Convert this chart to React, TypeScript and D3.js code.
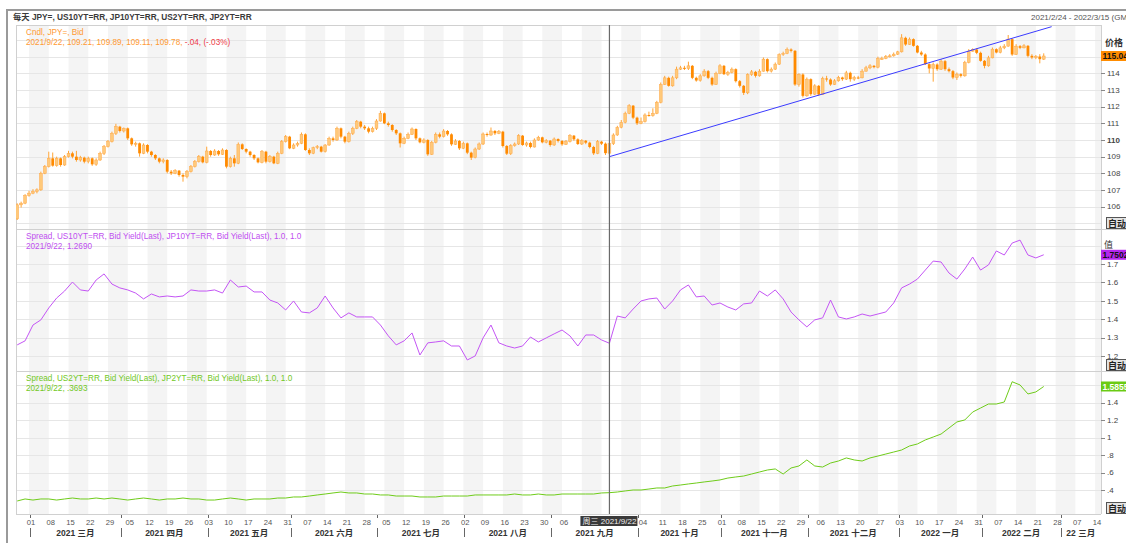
import React from 'react';
import * as d3 from 'd3';

const FONT = "'Liberation Sans', Arial, 'Noto Sans CJK SC', sans-serif";

// ---- data ----
const START = new Date(2021, 1, 24); // first candle
const AXIS_END = new Date(2022, 2, 15);

const jpyOpen0 = 105.27;
const jpyClose = [
  106.11, 106.21, 106.67, 106.81, 106.91, 107.01, 108.0, 108.4, 108.9, 108.46,
  108.9, 108.5, 109.0, 109.2, 109.0, 108.8, 108.94, 108.7, 108.9, 108.54,
  108.8, 109.2, 109.6, 109.9, 110.4, 110.8, 110.54, 110.7, 110.1, 109.74,
  109.8, 109.2, 109.7, 109.3, 109.1, 108.9, 108.7, 108.8, 108.1, 108.0,
  108.16, 107.9, 107.8, 108.1, 108.4, 108.7, 109.0, 108.66, 109.34, 109.1,
  109.34, 109.14, 109.4, 108.4, 108.9, 108.6, 109.74, 109.46, 109.3, 109.1,
  108.9, 108.66, 109.3, 108.7, 109.0, 108.6, 109.2, 109.9, 110.2, 109.5,
  109.7, 109.8, 110.34, 109.4, 109.2, 109.54, 109.6, 109.3, 109.7, 110.1,
  110.0, 110.7, 110.2, 109.9, 110.4, 110.7, 111.1, 110.8, 110.7, 110.5,
  110.7, 111.14, 111.6, 111.0, 110.9, 110.6, 110.4, 109.8, 110.1, 110.34,
  110.66, 110.1, 109.86, 110.0, 109.14, 109.86, 110.34, 110.2, 110.54, 110.34,
  109.74, 109.94, 109.5, 109.8, 109.24, 108.94, 109.46, 109.76, 110.36, 110.3,
  110.54, 110.4, 110.5, 109.64, 109.18, 109.66, 109.76, 110.26, 109.7, 109.82,
  109.58, 110.0, 110.16, 109.86, 109.96, 109.7, 110.06, 109.94, 109.74, 109.9,
  110.26, 110.04, 109.76, 109.96, 109.84, 109.58, 109.2, 109.9, 109.78, 109.21,
  109.78, 110.3, 110.76, 111.06, 111.6, 112.06, 111.34, 111.0, 111.1, 111.5,
  111.46, 111.6, 112.26, 113.33, 113.73, 113.25, 113.73, 114.25, 114.33, 114.29,
  114.45, 113.73, 113.57, 113.85, 114.13, 113.73, 113.33, 113.99, 114.45, 113.95,
  114.05, 114.25, 113.53, 113.25, 112.83, 113.93, 114.09, 113.85, 114.13, 114.85,
  114.13, 114.25, 114.55, 115.13, 115.19, 115.43, 115.35, 113.33, 113.93, 112.65,
  113.65, 112.75, 113.25, 112.73, 113.69, 113.63, 113.33, 113.55, 113.75, 113.65,
  114.03, 113.65, 113.75, 113.73, 114.13, 114.33, 114.45, 114.37, 114.89, 114.89,
  115.01, 115.05, 115.15, 115.29, 116.13, 115.73, 116.05, 115.65, 115.25, 115.13,
  114.55, 114.29, 114.53, 114.25, 114.73, 114.25, 114.13, 113.75, 113.95, 113.85,
  114.65, 115.33, 115.43, 115.23, 114.75, 114.45, 114.93, 115.45, 115.25, 115.53,
  115.63, 116.05, 115.13, 115.63, 115.53, 115.65, 115.05, 114.95, 115.01, 114.85,
  115.04,
];
const jpyHigh = [
  106.2, 106.3, 106.75, 106.95, 107.05, 107.1, 108.1, 108.5, 109.3, 109.25,
  109.0, 108.95, 109.1, 109.35, 109.3, 109.35, 109.05, 109.0, 109.0, 108.95,
  108.9, 109.3, 109.7, 110.0, 110.5, 110.97, 110.85, 110.75, 110.75, 110.15,
  109.9, 109.85, 109.8, 109.75, 109.35, 109.15, 108.95, 108.9, 108.85, 108.2,
  108.25, 108.2, 108.0, 108.2, 108.5, 108.8, 109.1, 109.05, 109.6, 109.4,
  109.45, 109.4, 109.5, 109.45, 109.0, 109.1, 109.85, 109.8, 109.5, 109.35,
  109.15, 108.95, 109.4, 109.35, 109.1, 109.05, 109.3, 110.0, 110.3, 110.25,
  109.8, 109.9, 110.45, 110.4, 109.5, 109.6, 109.7, 109.65, 109.75, 110.2,
  110.2, 110.8, 110.75, 110.25, 110.5, 110.8, 111.2, 111.15, 110.9, 110.8,
  110.8, 111.25, 111.75, 111.65, 111.1, 110.95, 110.65, 110.45, 110.2, 110.45,
  110.75, 110.7, 110.15, 110.1, 110.05, 109.95, 110.45, 110.45, 110.65, 110.6,
  110.4, 110.05, 110.0, 109.9, 109.85, 109.3, 109.55, 109.85, 110.45, 110.45,
  110.75, 110.6, 110.6, 110.55, 109.7, 109.75, 109.85, 110.35, 110.3, 109.9,
  109.9, 110.1, 110.25, 110.2, 110.05, 110.0, 110.15, 110.1, 110.0, 110.0,
  110.35, 110.3, 110.1, 110.05, 110.0, 109.9, 109.65, 110.0, 109.95, 109.85,
  109.89, 110.4, 110.85, 111.2, 111.7, 112.15, 112.1, 111.4, 111.35, 111.6,
  111.7, 111.9, 112.35, 113.45, 113.85, 113.8, 113.85, 114.4, 114.45, 114.45,
  114.7, 114.5, 113.8, 113.95, 114.25, 114.2, 113.8, 114.1, 114.55, 114.5,
  114.15, 114.35, 114.3, 113.6, 113.3, 114.0, 114.2, 114.15, 114.25, 114.95,
  114.9, 114.35, 114.65, 115.2, 115.3, 115.55, 115.5, 115.4, 114.0, 114.0,
  113.75, 113.7, 113.35, 113.3, 113.8, 113.85, 113.7, 113.65, 113.85, 113.8,
  114.15, 114.1, 113.85, 113.85, 114.25, 114.45, 114.55, 114.5, 115.0, 115.0,
  115.1, 115.15, 115.25, 115.35, 116.35, 116.2, 116.15, 116.1, 115.7, 115.35,
  115.2, 114.6, 114.65, 114.6, 114.85, 114.8, 114.35, 114.2, 114.05, 114.0,
  114.75, 115.45, 115.5, 115.5, 115.3, 114.8, 115.05, 115.55, 115.5, 115.65,
  115.75, 116.3, 116.1, 115.75, 115.7, 115.75, 115.7, 115.15, 115.1, 115.15,
  115.2,
];
const jpyLow = [
  105.2, 105.95, 106.15, 106.6, 106.75, 106.8, 106.95, 107.95, 108.35, 108.4,
  108.4, 108.4, 108.45, 108.95, 108.9, 108.7, 108.7, 108.6, 108.6, 108.45,
  108.45, 108.75, 109.1, 109.55, 109.85, 110.3, 110.45, 110.45, 110.0, 109.65,
  109.6, 109.0, 109.15, 109.2, 109.0, 108.8, 108.6, 108.6, 108.0, 107.9,
  107.95, 107.8, 107.5, 107.7, 108.05, 108.35, 108.65, 108.6, 108.6, 109.0,
  109.05, 109.05, 109.1, 108.3, 108.35, 108.4, 108.55, 109.4, 109.2, 109.0,
  108.8, 108.6, 108.6, 108.6, 108.65, 108.55, 108.55, 109.15, 109.85, 109.45,
  109.45, 109.6, 109.75, 109.35, 109.1, 109.15, 109.45, 109.25, 109.25, 109.65,
  109.9, 109.95, 110.1, 109.8, 109.85, 110.3, 110.65, 110.7, 110.6, 110.4,
  110.45, 110.6, 111.1, 110.95, 110.8, 110.5, 110.3, 109.55, 109.75, 110.05,
  110.3, 110.0, 109.8, 109.8, 109.05, 109.1, 109.8, 110.1, 110.15, 110.25,
  109.65, 109.7, 109.4, 109.45, 109.15, 108.8, 108.9, 109.4, 109.7, 110.2,
  110.25, 110.3, 110.35, 109.55, 109.1, 109.1, 109.6, 109.7, 109.65, 109.6,
  109.5, 109.55, 109.95, 109.8, 109.8, 109.6, 109.65, 109.85, 109.65, 109.7,
  109.85, 109.95, 109.7, 109.7, 109.75, 109.5, 109.1, 109.15, 109.7, 109.1,
  109.11, 109.7, 110.25, 110.7, 111.0, 111.55, 111.25, 110.9, 110.95, 111.05,
  111.4, 111.4, 111.55, 112.2, 113.3, 113.2, 113.2, 113.65, 114.2, 114.2,
  114.2, 113.65, 113.5, 113.5, 113.8, 113.65, 113.25, 113.3, 113.95, 113.9,
  113.85, 114.0, 113.45, 113.15, 112.7, 112.75, 113.85, 113.75, 113.8, 114.1,
  114.05, 114.05, 114.2, 114.5, 115.05, 115.15, 115.25, 113.25, 113.2, 112.55,
  112.6, 112.65, 112.7, 112.65, 112.7, 113.5, 113.25, 113.3, 113.5, 113.55,
  113.6, 113.5, 113.55, 113.65, 113.7, 114.1, 114.25, 114.3, 114.3, 114.8,
  114.85, 114.95, 115.0, 115.1, 115.25, 115.65, 115.7, 115.6, 115.2, 115.05,
  114.5, 114.0, 113.5, 114.15, 114.2, 114.15, 114.05, 113.65, 113.6, 113.75,
  113.8, 114.6, 115.3, 115.15, 114.7, 114.3, 114.4, 114.9, 115.2, 115.2,
  115.45, 115.6, 115.05, 115.1, 115.45, 115.5, 114.95, 114.85, 114.85, 114.6,
  114.8,
];

// spreads, one value every second trading day from START
const us10jp10 = [
  1.26, 1.282, 1.368, 1.396, 1.461, 1.515, 1.553, 1.602, 1.559, 1.553,
  1.613, 1.646, 1.591, 1.57, 1.559, 1.542, 1.51, 1.537, 1.521, 1.526,
  1.521, 1.526, 1.559, 1.553, 1.553, 1.559, 1.542, 1.613, 1.575, 1.58,
  1.548, 1.548, 1.504, 1.488, 1.45, 1.499, 1.439, 1.434, 1.461, 1.526,
  1.461, 1.407, 1.434, 1.412, 1.412, 1.412, 1.368, 1.309, 1.26, 1.282,
  1.325, 1.205, 1.271, 1.276, 1.282, 1.254, 1.254, 1.178, 1.2, 1.298,
  1.368, 1.271, 1.254, 1.243, 1.254, 1.303, 1.276, 1.298, 1.32, 1.341,
  1.309, 1.254, 1.314, 1.314, 1.287, 1.269, 1.417, 1.407, 1.455, 1.499,
  1.51, 1.515, 1.455, 1.499, 1.559, 1.586, 1.521, 1.526, 1.477, 1.488,
  1.466, 1.45, 1.483, 1.488, 1.553, 1.526, 1.559, 1.51, 1.439, 1.396,
  1.358, 1.396, 1.407, 1.504, 1.412, 1.401, 1.412, 1.428, 1.417, 1.428,
  1.439, 1.488, 1.57, 1.591, 1.618, 1.667, 1.716, 1.711, 1.651, 1.618,
  1.673, 1.738, 1.667, 1.695, 1.771, 1.749, 1.814, 1.83, 1.749, 1.733,
  1.7502,
];
const us2jp2 = [
  0.274, 0.297, 0.285, 0.297, 0.297, 0.285, 0.297, 0.308, 0.297, 0.297,
  0.308, 0.297, 0.308, 0.297, 0.285, 0.297, 0.308, 0.297, 0.285, 0.297,
  0.297, 0.308, 0.297, 0.297, 0.285, 0.285, 0.297, 0.308, 0.297, 0.285,
  0.297, 0.297, 0.297, 0.308, 0.308, 0.32, 0.32, 0.331, 0.343, 0.354,
  0.366, 0.377, 0.366, 0.366, 0.354, 0.354, 0.343, 0.343, 0.331, 0.331,
  0.331, 0.32, 0.32, 0.32, 0.331, 0.331, 0.331, 0.331, 0.343, 0.343,
  0.343, 0.343, 0.343, 0.354, 0.343, 0.343, 0.354, 0.343, 0.343, 0.354,
  0.354, 0.354, 0.354, 0.354, 0.366, 0.3693, 0.377, 0.389, 0.4, 0.4,
  0.411, 0.423, 0.423, 0.446, 0.457, 0.469, 0.48, 0.492, 0.503, 0.515,
  0.537, 0.549, 0.56, 0.583, 0.606, 0.629, 0.641, 0.583, 0.652, 0.675,
  0.744, 0.675, 0.663, 0.709, 0.732, 0.767, 0.744, 0.732, 0.767, 0.789,
  0.812, 0.835, 0.858, 0.904, 0.927, 0.973, 1.007, 1.041, 1.11, 1.179,
  1.202, 1.293, 1.339, 1.385, 1.385, 1.408, 1.64, 1.603, 1.5, 1.523,
  1.5855,
];

const trend = [{ day: 150, value: 109.0 }, { day: 262, value: 116.8 }];
const crossDay = 150;

const priceTicks = [106, 107, 108, 109, 110, 111, 112, 113, 114];
const priceGrid = [105, 106, 107, 108, 109, 110, 111, 112, 113, 114, 115, 116];
const s10Ticks = [1.2, 1.3, 1.4, 1.5, 1.6, 1.7];
const s10Grid = [1.2, 1.3, 1.4, 1.5, 1.6, 1.7, 1.8];
const s2Ticks = [0.4, 0.6, 0.8, 1, 1.2, 1.4];
const s2Grid = [0.4, 0.6, 0.8, 1, 1.2, 1.4, 1.6];
const monthLabels = ['2021 三月', '2021 四月', '2021 五月', '2021 六月', '2021 七月', '2021 八月',
  '2021 九月', '2021 十月', '2021 十一月', '2021 十二月', '2022 一月', '2022 二月', '22 三月'];

const title = '每天 JPY=, US10YT=RR, JP10YT=RR, US2YT=RR, JP2YT=RR';
const rangeText = '2021/2/24 - 2022/3/15 (GMT';
const crossLabel = '周三 2021/9/22';

// ---- layout ----
const L = 16, R = 1101;
const LBL = 2; // axis labels sit a little right of candle centres
const x = d3.scaleLinear().domain([-0.3, 274.5]).range([L, R]);
const y1 = d3.scaleLinear().domain([104.66, 116.9]).range([229, 25]);
const y2 = d3.scaleLinear().domain([1.118, 1.885]).range([371, 230]);
const y3 = d3.scaleLinear().domain([0.125, 1.763]).range([514, 371]);

const isWeekday = (t: Date) => t.getDay() % 6 !== 0;
const tradingDay = (d: Date) => d3.timeDay.range(START, d).filter(isWeekday).length;

const fmtSpread = (v: number) => (v < 1 ? d3.format('.1f')(v).replace(/^0/, '') : String(v));

export default function App() {
  const mondays = d3.timeMonday.range(new Date(2021, 2, 1), AXIS_END);
  const months = d3.timeMonth.range(new Date(2021, 2, 1), new Date(2022, 3, 1));
  const monthX = months.map(m => x(tradingDay(m)) + LBL - 1);

  const candles = jpyClose.map((c, i) => {
    const o = i === 0 ? jpyOpen0 : jpyClose[i - 1];
    return { i, o, c, h: jpyHigh[i], l: jpyLow[i], up: c >= o };
  });

  const line10 = d3.line<number>().x((_, k) => x(k * 2)).y(v => y2(v))(us10jp10) || '';
  const line2 = d3.line<number>().x((_, k) => x(k * 2)).y(v => y3(v))(us2jp2) || '';
  const trendPath = d3.line<{ day: number; value: number }>().x(d => x(d.day)).y(d => y1(d.value))(trend) || '';

  const cx = x(crossDay);
  const boxL = cx - 29, boxR = cx + 28;
  const last = jpyClose[jpyClose.length - 1];
  const last10 = us10jp10[us10jp10.length - 1];
  const last2 = us2jp2[us2jp2.length - 1];

  // day labels that sit under the crosshair date tag are hidden by it
  const dayTicks = mondays
    .map(m => ({ m, px: x(tradingDay(m)) + LBL }))
    .filter(d => d.px + 5 < boxL || d.px - 5 > boxR);

  return (
    <div style={{ position: 'absolute', left: 0, top: 0 }}>
      <svg width={1126} height={543} style={{ display: 'block', fontFamily: FONT }}>
        <defs>
          <clipPath id="p1"><rect x={L} y={25} width={R - L} height={204} /></clipPath>
          <clipPath id="p2"><rect x={L} y={229} width={R - L} height={142} /></clipPath>
          <clipPath id="p3"><rect x={L} y={371} width={R - L} height={143} /></clipPath>
          <clipPath id="plot"><rect x={L} y={25} width={R - L} height={489} /></clipPath>
        </defs>
        <rect width={1126} height={543} fill="#fff" />

        {/* weekly bands */}
        <g clipPath="url(#plot)">
          {mondays.filter((_, k) => k % 2 === 0).map((m, k) => {
            const d = tradingDay(m);
            const x0 = x(d - 0.5) + LBL;
            return <rect key={k} x={x0} y={25} width={x(d + 4.5) - x(d - 0.5)} height={489} fill="#f4f4f4" />;
          })}
        </g>

        {/* grid */}
        <g stroke="#e6e6e6" strokeWidth={1}>
          {priceGrid.map(v => <line key={'g1' + v} x1={L} x2={R} y1={Math.round(y1(v)) + 0.5} y2={Math.round(y1(v)) + 0.5} />)}
          {s10Grid.map(v => <line key={'g2' + v} x1={L} x2={R} y1={Math.round(y2(v)) + 0.5} y2={Math.round(y2(v)) + 0.5} />)}
          {s2Grid.map(v => <line key={'g3' + v} x1={L} x2={R} y1={Math.round(y3(v)) + 0.5} y2={Math.round(y3(v)) + 0.5} />)}
        </g>

        {/* frame */}
        <g stroke="#d0d0d0" strokeWidth={1}>
          <line x1={L} x2={R} y1={25.5} y2={25.5} />
          <line x1={L + 0.5} x2={L + 0.5} y1={25} y2={514} />
          <line x1={R + 0.5} x2={R + 0.5} y1={25} y2={514} />
          <line x1={L} x2={1126} y1={229.5} y2={229.5} />
          <line x1={L} x2={1126} y1={371.5} y2={371.5} />
          <line x1={L} x2={R} y1={514.5} y2={514.5} />
        </g>

        {/* candles */}
        <g clipPath="url(#p1)">
          {candles.map(d => {
            const cxp = x(d.i);
            const top = y1(Math.max(d.o, d.c));
            const h = Math.max(1, Math.abs(y1(d.o) - y1(d.c)));
            return (
              <g key={d.i}>
                <line x1={cxp} x2={cxp} y1={y1(d.h)} y2={y1(d.l)} stroke="#ffa435" strokeWidth={1} />
                <rect x={cxp - 1.4} y={top} width={2.8} height={h}
                  fill={d.up ? '#ffc97a' : '#ff8a00'} stroke={d.up ? '#ffa94a' : 'none'} strokeWidth={0.5} />
              </g>
            );
          })}
          <path d={trendPath} fill="none" stroke="#3b3bff" strokeWidth={1} />
        </g>

        {/* spreads */}
        <g clipPath="url(#p2)">
          <path d={line10} fill="none" stroke="#c455f5" strokeWidth={1} />
        </g>
        <g clipPath="url(#p3)">
          <path d={line2} fill="none" stroke="#6fcc1a" strokeWidth={1} />
        </g>

        {/* crosshair */}
        <line x1={cx} x2={cx} y1={25} y2={514} stroke="#6a6a6a" strokeWidth={1.2} />

        {/* legends */}
        <g fontSize={8.2}>
          <text x={26} y={34.5} fill="#ff9a33">Cndl, JPY=, Bid</text>
          <text x={26} y={44.5} fill="#ff9a33">2021/9/22, 109.21, 109.89, 109.11, 109.78, <tspan fill="#ee3a48">-.04, (-.03%)</tspan></text>
          <text x={26} y={238.5} fill="#c04ff0">Spread, US10YT=RR, Bid Yield(Last), JP10YT=RR, Bid Yield(Last),  1.0, 1.0</text>
          <text x={26} y={248.5} fill="#c04ff0">2021/9/22, 1.2690</text>
          <text x={26} y={380.5} fill="#72c81e">Spread, US2YT=RR, Bid Yield(Last), JP2YT=RR, Bid Yield(Last),  1.0, 1.0</text>
          <text x={26} y={390.5} fill="#72c81e">2021/9/22, .3693</text>
        </g>

        {/* right axes */}
        <g stroke="#888" strokeWidth={1}>
          {priceTicks.map(v => <line key={'t1' + v} x1={R} x2={R + 4} y1={Math.round(y1(v)) + 0.5} y2={Math.round(y1(v)) + 0.5} />)}
          {s10Ticks.map(v => <line key={'t2' + v} x1={R} x2={R + 4} y1={Math.round(y2(v)) + 0.5} y2={Math.round(y2(v)) + 0.5} />)}
          {s2Ticks.map(v => <line key={'t3' + v} x1={R} x2={R + 4} y1={Math.round(y3(v)) + 0.5} y2={Math.round(y3(v)) + 0.5} />)}
        </g>
        <g fontSize={8} fill="#444">
          {priceTicks.map(v => (
            <text key={'l1' + v} x={R + 6} y={y1(v)} dy="0.35em" fontWeight={v === 110 ? 'bold' : 'normal'}>{v}</text>
          ))}
          {s10Ticks.map(v => <text key={'l2' + v} x={R + 6} y={y2(v)} dy="0.35em">{fmtSpread(v)}</text>)}
          {s2Ticks.map(v => <text key={'l3' + v} x={R + 6} y={y3(v)} dy="0.35em">{fmtSpread(v)}</text>)}
        </g>
        <text x={R + 4} y={46} fontSize={9} fontWeight="bold" fill="#333">价格</text>
        <text x={R + 3} y={248} fontSize={9} fill="#333">值</text>

        {/* last value tags */}
        <rect x={R} y={y1(last) - 5} width={30} height={10} fill="#ff8c00" />
        <text x={R + 1.5} y={y1(last) + 3.3} fontSize={8.5} fontWeight="bold" fill="#111">{last.toFixed(2)}</text>
        <rect x={R} y={y2(last10) - 5} width={30} height={10} fill="#b526f0" />
        <text x={R + 1.5} y={y2(last10) + 3.3} fontSize={8.5} fontWeight="bold" fill="#111">{last10.toFixed(4)}</text>
        <rect x={R} y={y3(last2) - 5} width={30} height={10} fill="#6acb14" />
        <text x={R + 1.5} y={y3(last2) + 3.3} fontSize={8.5} fontWeight="bold" fill="#fff">{last2.toFixed(4)}</text>

        {/* 自动 buttons */}
        {[229, 371, 514].map(b => (
          <g key={'auto' + b}>
            <rect x={1106.5} y={b - 11.5} width={22} height={11} fill="#e4e4e4" stroke="#555" strokeWidth={1} />
            <text x={1108} y={b - 2.5} fontSize={9} fontWeight="bold" fill="#222">自动</text>
          </g>
        ))}

        {/* x axis */}
        <g fontSize={7.6} fill="#555" textAnchor="middle">
          {dayTicks.map((d, k) => (
            <text key={'d' + k} x={d.px} y={524.5}>{d3.timeFormat('%d')(d.m)}</text>
          ))}
        </g>
        <g stroke="#666" strokeWidth={1}>
          {monthX.map((mx, k) => (
            <g key={'ms' + k}>
              <line x1={Math.round(mx) + 0.5} x2={Math.round(mx) + 0.5} y1={515} y2={518} />
              <line x1={Math.round(mx) + 0.5} x2={Math.round(mx) + 0.5} y1={528} y2={537} />
            </g>
          ))}
        </g>
        <g fontSize={8.5} fontWeight="bold" fill="#333" textAnchor="middle">
          {monthLabels.map((t, k) => {
            const a = monthX[k];
            const b = k + 1 < monthX.length ? monthX[k + 1] : R;
            return <text key={'m' + k} x={(a + b) / 2} y={535.5}>{t}</text>;
          })}
        </g>

        {/* crosshair date tag */}
        <rect x={boxL} y={516} width={boxR - boxL} height={10} fill="#3a3a3a" />
        <text x={cx} y={524} fontSize={8} fill="#eee" textAnchor="middle">{crossLabel}</text>

        {/* header */}
        <text x={13} y={20} fontSize={8.3} fontWeight="bold" fill="#3a3a3a">{title}</text>
        <text x={1031} y={20} fontSize={8} fill="#555">{rangeText}</text>
        <line x1={6} x2={1126} y1={10} y2={10} stroke="#9a9a9a" strokeWidth={2} />
        <line x1={7} x2={7} y1={9} y2={543} stroke="#9a9a9a" strokeWidth={2} />
      </svg>
    </div>
  );
}
